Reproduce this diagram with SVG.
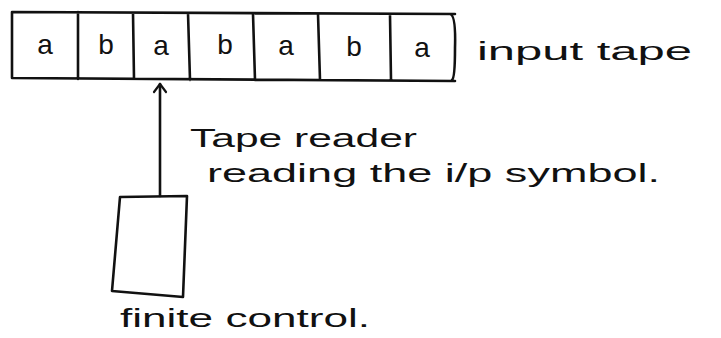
<svg xmlns="http://www.w3.org/2000/svg" width="721" height="338" viewBox="0 0 721 338">
<style>
.ln{fill:none;stroke:#111;stroke-width:2.6;stroke-linecap:round;stroke-linejoin:round}
.cell{font-family:"Liberation Sans",Arial,sans-serif;font-size:28px;fill:#111;text-anchor:middle}
.lbl{font-family:"Liberation Sans",Arial,sans-serif;font-size:26px;fill:#111}
</style>
<defs>
<marker id="ah" viewBox="0 0 12 16" refX="10" refY="8" markerWidth="12" markerHeight="16" markerUnits="userSpaceOnUse" orient="auto">
<path d="M2,2 L10,8 L2,14" fill="none" stroke="#111" stroke-width="2.2" stroke-linecap="round" stroke-linejoin="round"/>
</marker>
</defs>
<rect width="721" height="338" fill="#fff"/>
<g id="tape">
<path class="ln" d="M12,12 L455,14 M12,78 L455,81 M12,12 L12,78 M78,12 L78,79 M133,13 L134,79 M188,13 L190,80 M253,14 L255,80 M318,14 L320,80 M390,15 L391,80 M450,14 Q456,15 455,48 Q455,78 452,80"/>
<text class="cell" x="45" y="54">a</text>
<text class="cell" x="106" y="54">b</text>
<text class="cell" x="161" y="55">a</text>
<text class="cell" x="225" y="54">b</text>
<text class="cell" x="286" y="55">a</text>
<text class="cell" x="354" y="56">b</text>
<text class="cell" x="422" y="57">a</text>
</g>
<g id="input-tape-label">
<text class="lbl" x="477" y="60" textLength="215" lengthAdjust="spacingAndGlyphs">input tape</text>
</g>
<g id="finite-control">
<path class="ln" d="M120,197 L187,196 L183,297 L112,291 Z"/>
<text class="lbl" x="120" y="327" textLength="250" lengthAdjust="spacingAndGlyphs">finite control.</text>
</g>
<g id="tape-reader-label">
<text class="lbl" x="190" y="147" textLength="227" lengthAdjust="spacingAndGlyphs">Tape reader</text>
<text class="lbl" x="207" y="182" textLength="453" lengthAdjust="spacingAndGlyphs">reading the i/p symbol.</text>
</g>
<g id="connectors">
<path class="ln" d="M160,196 L160,84" marker-end="url(#ah)"/>
</g>
</svg>
